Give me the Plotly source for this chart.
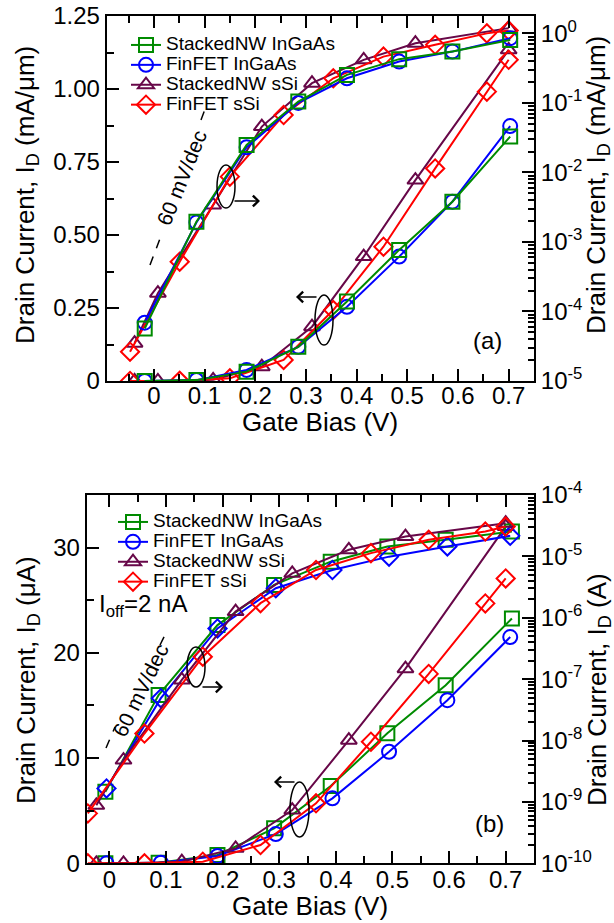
import plotly.graph_objects as go

W, H = 614, 923
FONT = "Liberation Sans, Arial, Helvetica, sans-serif"

# ---------------- data ----------------
names = ["StackedNW InGaAs", "FinFET InGaAs", "StackedNW sSi", "FinFET sSi"]
colors = ["#008b00", "#0000ff", "#670748", "#ff0000"]
sym_lin = ["square-open", "circle-open", "triangle-up-open", "diamond-open"]
sym_log_a = ["square-open", "circle-open", "triangle-up-open", "diamond-open"]
sym_log_b = ["square-open", "diamond-open", "triangle-up-open", "diamond-open"]

# Panel (a): drain current in mA/um
a_vg_nw_ingaas = [-0.018, 0.084, 0.183, 0.285, 0.381, 0.484, 0.589, 0.703]
a_lin_nw_ingaas = [0.0, 0.003, 0.032, 0.117, 0.272, 0.449, 0.614, 0.837]
a_log_nw_ingaas = [5.7e-5, 1.96e-3, 0.0249, 0.1045, 0.253, 0.426, 0.547, 0.805]

a_vg_fin_ingaas = [-0.018, 0.084, 0.183, 0.285, 0.381, 0.484, 0.589, 0.703]
a_lin_fin_ingaas = [0.0, 0.003, 0.038, 0.117, 0.254, 0.426, 0.614, 0.873]
a_log_fin_ingaas = [6.9e-5, 1.9e-3, 0.023, 0.1, 0.226, 0.393, 0.547, 0.853]

a_vg_nw_ssi = [-0.038, 0.008, 0.117, 0.213, 0.312, 0.414, 0.516, 0.70]
a_lin_nw_ssi = [0.0, 0.0002, 0.004, 0.049, 0.186, 0.426, 0.688, 1.134]
a_log_nw_ssi = [3.5e-5, 1.83e-4, 3.4e-3, 0.0456, 0.192, 0.416, 0.722, 1.19]

a_vg_fin_ssi = [-0.047, 0.051, 0.15, 0.256, 0.354, 0.453, 0.555, 0.657, 0.70]
a_lin_fin_ssi = [0.0, 0.0005, 0.009, 0.072, 0.243, 0.46, 0.728, 0.991, 1.10]
a_log_fin_ssi = [2.64e-5, 5.2e-4, 8.7e-3, 0.067, 0.226, 0.463, 0.684, 1.0, 1.10]

# Panel (b): drain current in uA (linear) and A (log)
b_vg_nw_ingaas = [-0.007, 0.087, 0.191, 0.291, 0.391, 0.491, 0.594, 0.711]
b_lin_nw_ingaas = [0.0, 0.05, 0.79, 3.32, 7.34, 12.35, 16.93, 23.27]
b_log_nw_ingaas = [1.46e-9, 5.5e-8, 7.6e-7, 3.43e-6, 8.2e-6, 1.45e-5, 1.86e-5, 2.54e-5]

b_vg_fin_ingaas = [-0.005, 0.091, 0.191, 0.294, 0.394, 0.494, 0.597, 0.708]
b_lin_fin_ingaas = [0.0, 0.05, 0.7, 2.78, 6.17, 10.6, 15.5, 21.5]
b_log_fin_ingaas = [1.66e-9, 4.9e-8, 6.7e-7, 3.03e-6, 6.0e-6, 9.9e-6, 1.45e-5, 2.16e-5]

b_vg_nw_ssi = [-0.023, 0.025, 0.128, 0.223, 0.323, 0.423, 0.523, 0.70]
b_lin_nw_ssi = [0.0, 0.0, 0.15, 1.42, 5.06, 11.7, 18.5, 32.0]
b_log_nw_ssi = [8.8e-10, 4.8e-9, 9.7e-8, 1.26e-6, 5.3e-6, 1.28e-5, 2.1e-5, 3.48e-5]

b_vg_fin_ssi = [-0.038, 0.062, 0.165, 0.267, 0.365, 0.462, 0.564, 0.664, 0.70]
b_lin_fin_ssi = [0.0, 0.0, 0.15, 1.74, 5.7, 11.55, 18.0, 24.7, 27.07]
b_log_fin_ssi = [6.5e-10, 1.3e-8, 2.32e-7, 1.73e-6, 6.0e-6, 1.13e-5, 1.86e-5, 2.54e-5, 3.06e-5]

x_ticks = [0, 0.1, 0.2, 0.3, 0.4, 0.5, 0.6, 0.7]
x_ticktext = ["0", "0.1", "0.2", "0.3", "0.4", "0.5", "0.6", "0.7"]
a_lin_ticks = [0, 0.25, 0.5, 0.75, 1.0, 1.25]
a_lin_ticktext = ["0", "0.25", "0.50", "0.75", "1.00", "1.25"]
a_log_exps = [-5, -4, -3, -2, -1, 0]
b_lin_ticks = [0, 10, 20, 30]
b_log_exps = [-10, -9, -8, -7, -6, -5, -4]

panel_a = [
    (a_vg_nw_ingaas, a_lin_nw_ingaas, a_log_nw_ingaas),
    (a_vg_fin_ingaas, a_lin_fin_ingaas, a_log_fin_ingaas),
    (a_vg_nw_ssi, a_lin_nw_ssi, a_log_nw_ssi),
    (a_vg_fin_ssi, a_lin_fin_ssi, a_log_fin_ssi),
]
panel_b = [
    (b_vg_nw_ingaas, b_lin_nw_ingaas, b_log_nw_ingaas),
    (b_vg_fin_ingaas, b_lin_fin_ingaas, b_log_fin_ingaas),
    (b_vg_nw_ssi, b_lin_nw_ssi, b_log_nw_ssi),
    (b_vg_fin_ssi, b_lin_fin_ssi, b_log_fin_ssi),
]

fig = go.Figure()


def add(v, i, k, symbol, xa, ya, legend, show):
    fig.add_trace(go.Scatter(
        x=v, y=i, mode="lines+markers",
        name="<span style='font-size:19px'>%s</span>" % names[k],
        xaxis=xa, yaxis=ya,
        legend=legend, showlegend=show, legendrank=k + 1,
        line=dict(color=colors[k], width=2),
        marker=dict(symbol=symbol, size=14, color=colors[k],
                    line=dict(color=colors[k], width=2)),
    ))


draw_order = [2, 3, 1, 0]
for k in draw_order:
    v, lin, lg = panel_a[k]
    add(v, lg, k, sym_log_a[k], "x", "y2", "legend", False)
    add(v, lin, k, sym_lin[k], "x", "y", "legend", True)
for k in [0, 1, 2, 3]:
    v, lin, lg = panel_b[k]
    add(v, lg, k, sym_log_b[k], "x2", "y4", "legend2", False)
    add(v, lin, k, sym_lin[k], "x2", "y3", "legend2", True)


def P(x, y):
    return x / W, 1 - y / H


tickfont = dict(family=FONT, size=24, color="black")
common = dict(showgrid=False, zeroline=False, showline=True, linewidth=2,
              linecolor="black", ticks="inside", tickwidth=2, tickcolor="black",
              tickfont=tickfont, automargin=False)


def minor(vals, ln=7):
    return dict(tickvals=vals, ticks="inside", ticklen=ln, tickwidth=1.5, tickcolor="black")


x_minor = [-0.05, 0.05, 0.15, 0.25, 0.35, 0.45, 0.55, 0.65]


def log_minor(e0, e1):
    return [m * 10 ** e for e in range(e0, e1) for m in range(2, 10)]


def sup(e):
    return "10<sup>%d</sup>" % e


XA = [106.7 / W, 534 / W]
YA = [1 - 381 / H, 1 - 16 / H]
XB = [86.7 / W, 534 / W]
YB = [1 - 863.3 / H, 1 - 495 / H]

legend_common = dict(xanchor="left", yanchor="top",
                     font=dict(family=FONT, size=13, color="black"),
                     bgcolor="rgba(0,0,0,0)", borderwidth=0, itemwidth=30,
                     tracegroupgap=0)

fig.update_layout(
    width=W, height=H, margin=dict(l=0, r=0, t=0, b=0),
    template="none", paper_bgcolor="white", plot_bgcolor="white",
    font=dict(family=FONT, color="black"),
    xaxis=dict(domain=XA, range=[-0.093, 0.75], anchor="y", tickvals=x_ticks,
               ticktext=x_ticktext, ticklen=12, mirror="ticks", ticklabelstandoff=-8,
               minor=minor(x_minor), **common),
    yaxis=dict(domain=YA, range=[0, 1.25], anchor="x", tickvals=a_lin_ticks,
               ticktext=a_lin_ticktext, ticklen=12,
               minor=minor([0.125, 0.375, 0.625, 0.875, 1.125]), **common),
    yaxis2=dict(overlaying="y", side="right", anchor="x", type="log",
                range=[-5, 0.25], tickvals=[10 ** e for e in a_log_exps],
                ticktext=[sup(e) for e in a_log_exps], ticklen=12,
                minor=minor(log_minor(-5, 1), 6), **common),
    xaxis2=dict(domain=XB, range=[-0.04, 0.75], anchor="y3", tickvals=x_ticks,
                ticktext=x_ticktext, ticklen=12, mirror="ticks", ticklabelstandoff=-6,
                minor=minor(x_minor[1:]), **common),
    yaxis3=dict(domain=YB, range=[0, 35], anchor="x2", tickvals=b_lin_ticks,
                ticklen=12, minor=minor([5, 15, 25]), **common),
    yaxis4=dict(overlaying="y3", side="right", anchor="x2", type="log",
                range=[-10, -4], tickvals=[10 ** e for e in b_log_exps],
                ticktext=[sup(e) for e in b_log_exps], ticklen=12,
                minor=minor(log_minor(-10, -4), 6), **common),
    legend=dict(x=126 / W, y=1 - 30 / H, **legend_common),
    legend2=dict(x=113 / W, y=1 - 507 / H, **legend_common),
)

ann = []


def text(x, y, s, size=24, angle=0):
    px, py = P(x, y)
    ann.append(dict(x=px, y=py, xref="paper", yref="paper", text=s, showarrow=False,
                    textangle=angle, xanchor="center", yanchor="middle",
                    font=dict(family=FONT, size=size, color="black")))


def arrow(hx, hy, tx, ty):
    px, py = P(hx, hy)
    ann.append(dict(x=px, y=py, xref="paper", yref="paper", text="", showarrow=True,
                    ax=tx - hx, ay=ty - hy, arrowhead=4, arrowsize=1.4,
                    arrowwidth=1.5, arrowcolor="black"))


# axis titles
text(320, 422, "Gate Bias (V)", 26)
text(310, 906, "Gate Bias (V)", 26)
text(27, 195, "Drain Current, I<sub>D</sub> (mA/\u03bcm)", 26, -90)
text(598, 185, "Drain Current, I<sub>D</sub> (mA/\u03bcm)", 26, -90)
text(27, 680, "Drain Current, I<sub>D</sub> (\u03bcA)", 26, -90)
text(598, 690, "Drain Current, I<sub>D</sub> (A)", 26, -90)

# panel labels and notes
text(487, 340, "(a)", 24)
text(489, 823, "(b)", 24)
text(143, 605, "I<sub>off</sub>=2 nA", 24)
text(182, 178, "60 mV/dec", 21, -68)
text(140, 690, "60 mV/dec", 21, -64)

arrow(260, 201, 233, 201)
arrow(296, 297, 318, 297)
arrow(223, 687, 201, 687)
arrow(274, 782, 296, 782)

fig.update_layout(annotations=ann)

shapes = []


def ellipse(x0, y0, x1, y1):
    a0, b0 = P(x0, y1)
    a1, b1 = P(x1, y0)
    shapes.append(dict(type="circle", xref="paper", yref="paper", x0=a0, y0=b0,
                       x1=a1, y1=b1, line=dict(color="black", width=1.5)))


def dline(x0, y0, x1, y1):
    a0, b0 = P(x0, y0)
    a1, b1 = P(x1, y1)
    shapes.append(dict(type="line", xref="paper", yref="paper", x0=a0, y0=b0,
                       x1=a1, y1=b1, line=dict(color="black", width=1.5, dash="dash")))


ellipse(217, 165, 235, 208)
ellipse(315, 295, 333, 345)
ellipse(187, 647, 205, 687)
ellipse(290, 782, 309, 837)
dline(150, 265, 161, 236)
dline(201, 120, 207, 104)
dline(106, 748, 115, 727)
dline(160, 645, 166, 633)

fig.update_layout(shapes=shapes)

fig.write_html("out.html")
